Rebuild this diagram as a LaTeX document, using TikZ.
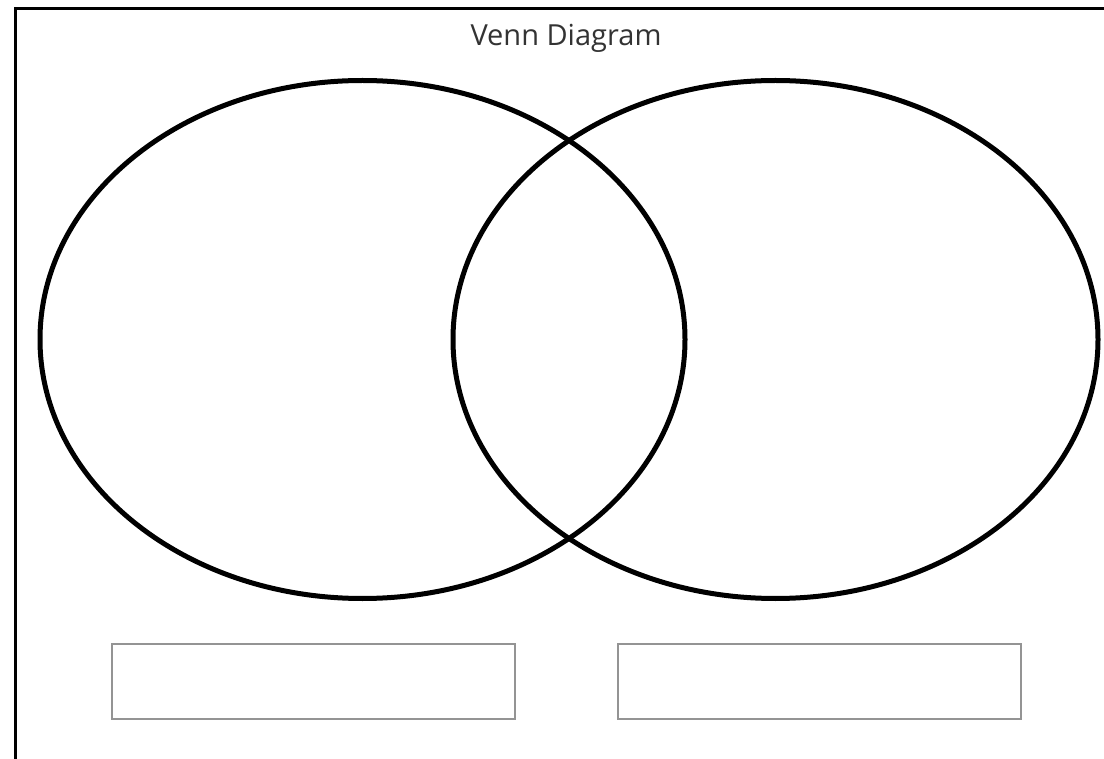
\documentclass[tikz,border=0pt]{standalone}
\usepackage{fontspec}
\setmainfont{Open Sans}
\usetikzlibrary{shapes.geometric}
\begin{document}
\begin{tikzpicture}[x=1pt,y=-1pt,
  setcircle/.style={draw=black,ellipse,line width=5pt,inner sep=0pt,minimum width=645pt,minimum height=518pt},
  labelbox/.style={draw=black!42,line width=2pt,inner sep=0pt,minimum width=403pt,minimum height=75pt},
  frameline/.style={draw=black,line width=3pt}]
\useasboundingbox (0,0) rectangle (1104,759);
\fill[white] (0,0) rectangle (1104,759);
\coordinate (tl) at (15.5,9);
\coordinate (tr) at (1104,9);
\coordinate (bl) at (15.5,759);
\draw[frameline] (tr) -- (tl) -- (bl);
\node[font=\fontsize{29}{34}\selectfont, text=black!80] (title) at (566,38) {Venn Diagram};
\node[setcircle] (left) at (362.5,339.5) {};
\node[setcircle] (right) at (775.5,339.5) {};
\node[labelbox] (leftbox) at (313.5,681.5) {};
\node[labelbox] (rightbox) at (819.5,681.5) {};
\end{tikzpicture}
\end{document}
